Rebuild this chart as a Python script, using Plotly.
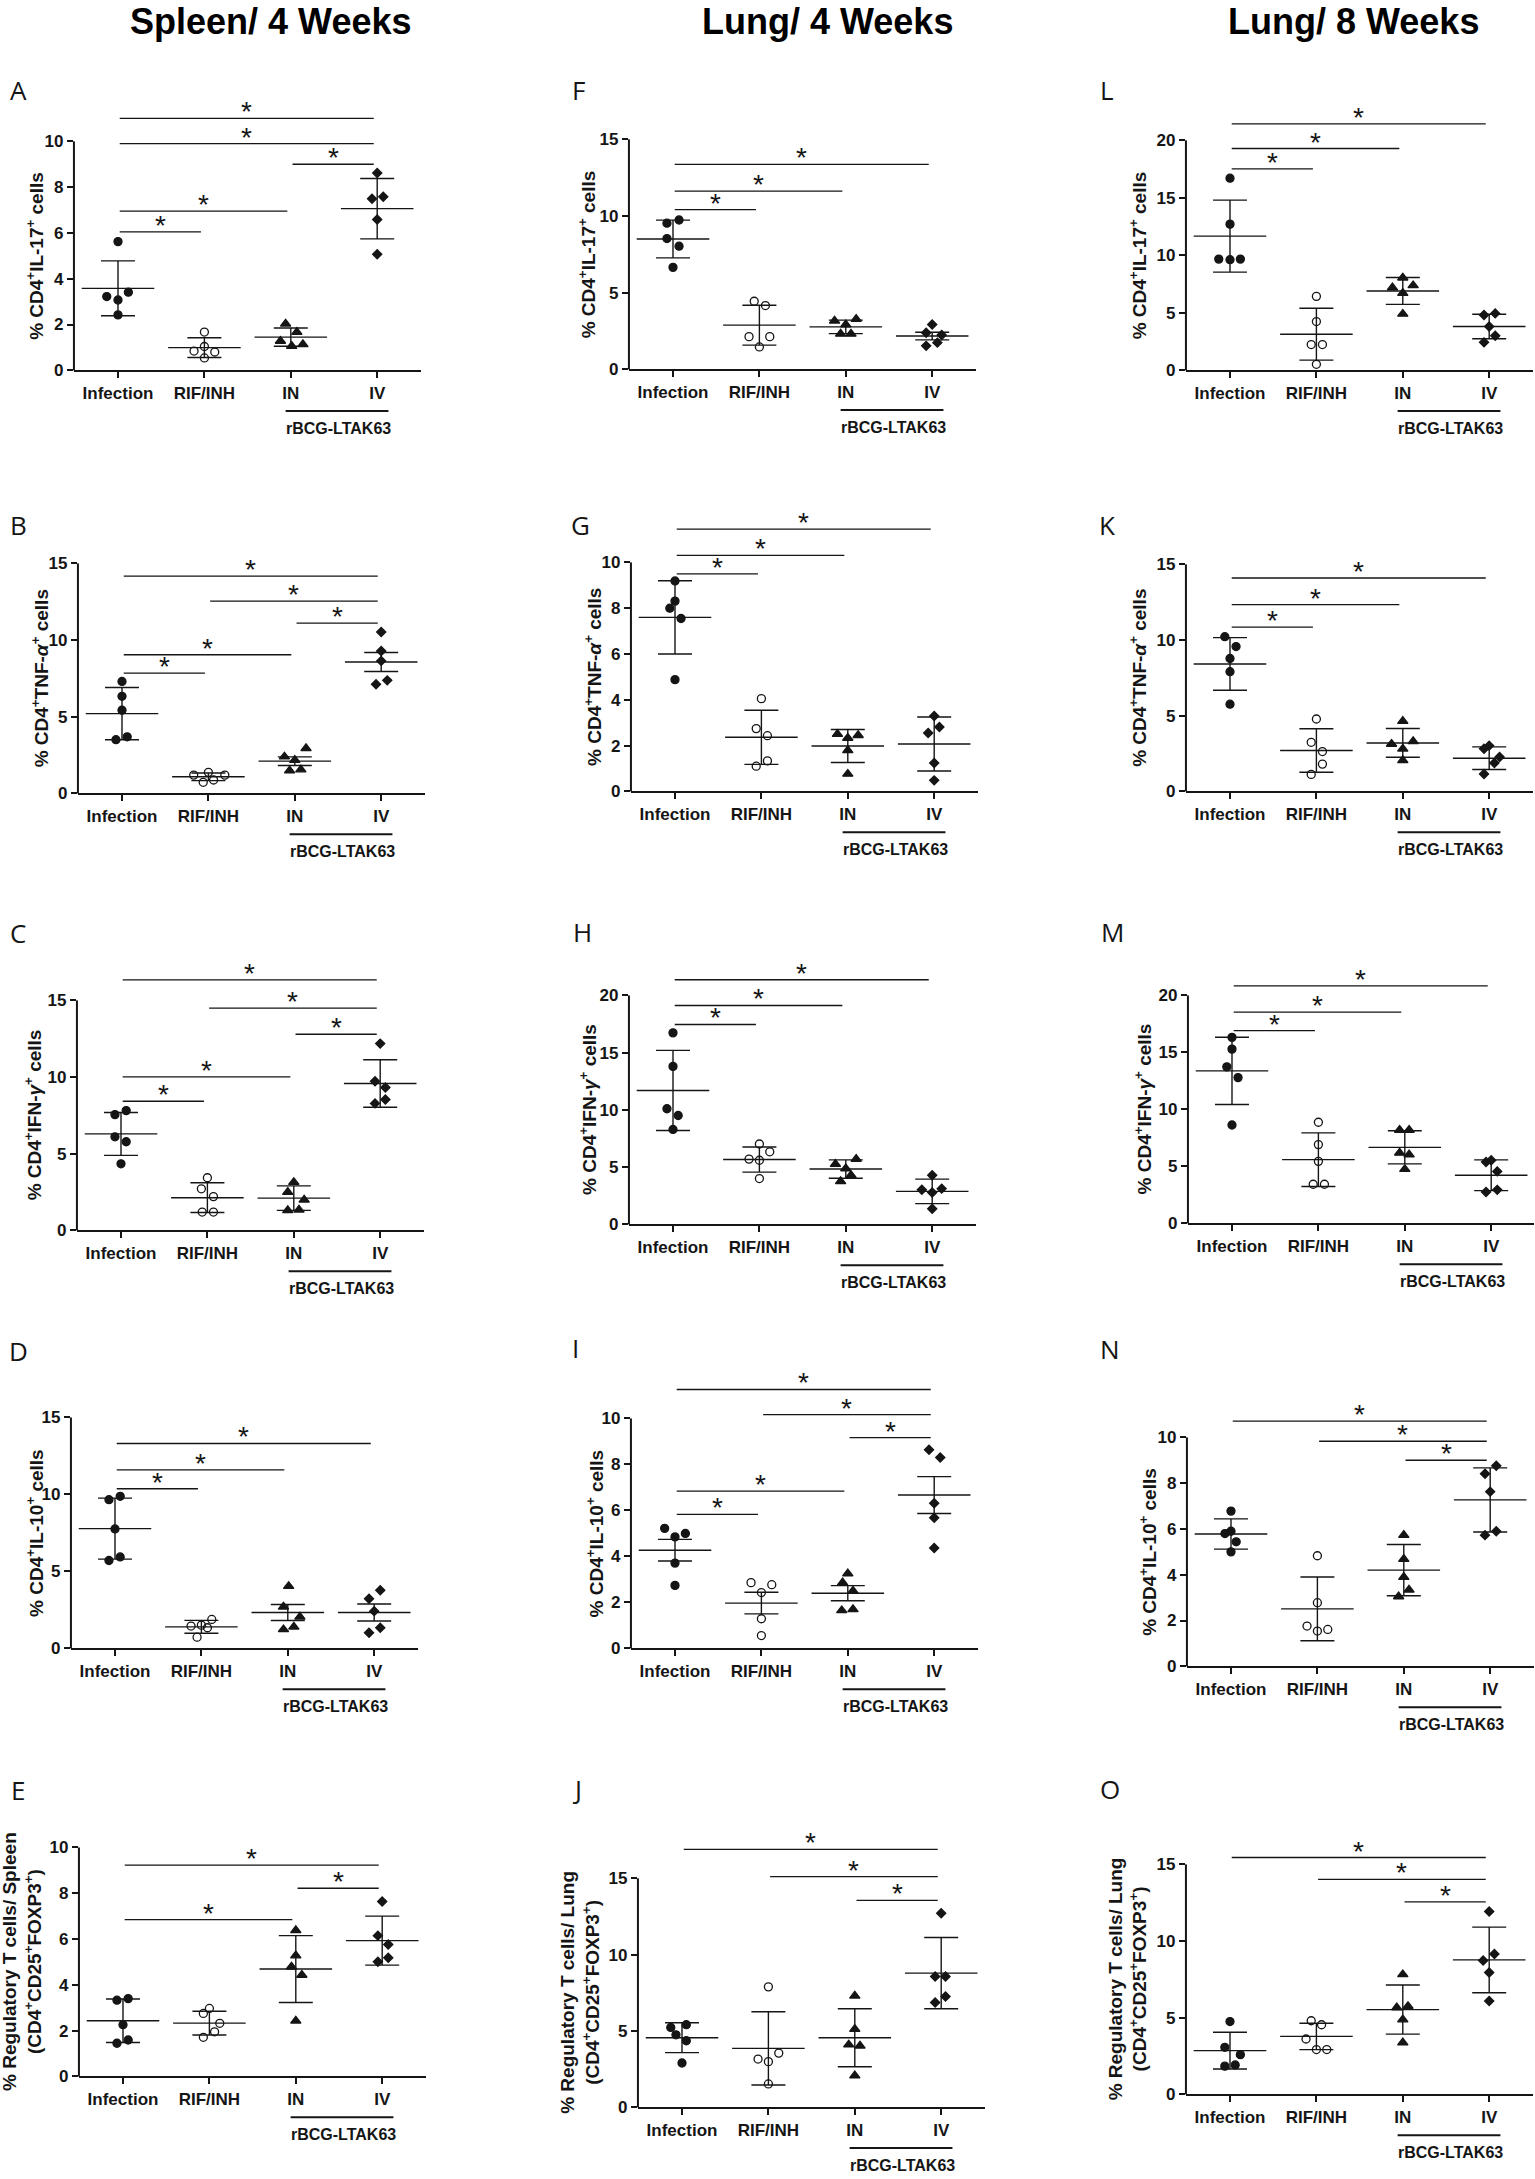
import plotly.graph_objects as go

W, H = 1535, 2179

groups = ["Infection", "RIF/INH", "IN", "IV"]
col_titles = ["Spleen/ 4 Weeks", "Lung/ 4 Weeks", "Lung/ 8 Weeks"]

# ---- Spleen / 4 weeks ----
A_vals = [[3.22, 3.07, 3.41, 2.42, 5.62], [1.67, 0.84, 1.04, 0.80, 0.54],
          [2.03, 1.67, 1.28, 1.06, 1.13], [8.62, 7.49, 7.58, 6.59, 5.07]]
A_jit = [[-0.13, 0, 0.12, 0, 0], [0, -0.12, 0, 0.12, 0],
         [-0.06, 0.07, -0.12, 0.01, 0.14], [0, -0.06, 0.07, 0, 0]]
A_mean = [3.58, 0.99, 1.45, 7.06]
A_sd = [1.2, 0.43, 0.4, 1.32]
A_sig = [(0, 1, 6.05), (0, 2, 6.95), (2, 3, 9.0), (0, 3, 9.9), (0, 3, 11.0)]

B_vals = [[7.3, 6.33, 5.42, 3.5, 3.69], [1.19, 1.37, 1.19, 0.72, 0.87],
          [2.39, 2.93, 2.17, 1.48, 1.55], [10.52, 9.29, 8.64, 7.12, 7.37]]
B_jit = [[0, 0, 0, -0.07, 0.06], [-0.17, 0, 0.19, -0.06, 0.06],
         [-0.12, 0.13, 0, -0.06, 0.07], [0, 0, 0, -0.06, 0.07]]
B_mean = [5.2, 1.08, 2.1, 8.57]
B_sd = [1.7, 0.25, 0.28, 0.62]
B_sig = [(0, 1, 7.84), (0, 2, 9.04), (2, 3, 11.1), (1, 3, 12.54), (0, 3, 14.17)]

C_vals = [[7.55, 7.81, 6.1, 5.78, 4.34], [3.43, 2.71, 2.2, 1.19, 1.19],
          [3.14, 2.49, 1.99, 1.3, 1.34], [12.18, 9.72, 9.32, 8.28, 8.53]]
C_jit = [[-0.07, 0.06, -0.07, 0.06, 0], [0, -0.07, 0.07, -0.06, 0.07],
         [0, -0.07, 0.12, -0.07, 0.06], [0, -0.06, 0.06, -0.06, 0.06]]
C_mean = [6.29, 2.13, 2.1, 9.58]
C_sd = [1.4, 0.97, 0.8, 1.55]
C_sig = [(0, 1, 8.42), (0, 2, 10.01), (2, 3, 12.79), (1, 3, 14.49), (0, 3, 16.34)]

D_vals = [[9.66, 9.88, 7.76, 5.71, 5.94], [1.45, 1.51, 1.34, 1.88, 0.73],
          [4.04, 2.7, 2.05, 1.23, 1.4], [3.78, 3.22, 2.42, 1.02, 1.34]]
D_jit = [[-0.07, 0.06, 0, -0.07, 0.06], [-0.12, 0, 0.07, 0.12, -0.05],
         [0.01, -0.05, 0.14, -0.05, 0.07], [0.07, -0.06, 0, -0.06, 0.07]]
D_mean = [7.78, 1.4, 2.33, 2.33]
D_sd = [1.98, 0.42, 0.52, 0.55]
D_sig = [(0, 1, 10.37), (0, 2, 11.6), (0, 3, 13.31)]

E_vals = [[3.33, 3.4, 2.26, 1.45, 1.59], [2.97, 2.75, 2.32, 1.95, 1.71],
          [6.38, 5.28, 4.79, 4.43, 2.43], [7.64, 6.15, 5.76, 5.01, 5.18]]
E_jit = [[-0.07, 0.06, 0, -0.07, 0.06], [0, -0.07, 0.12, 0.06, -0.07],
         [0, 0, -0.05, 0.07, 0], [0, -0.05, 0.07, -0.05, 0.07]]
E_mean = [2.43, 2.33, 4.69, 5.93]
E_sd = [0.95, 0.52, 1.46, 1.07]
E_sig = [(0, 2, 6.85), (2, 3, 8.22), (0, 3, 9.23)]

# ---- Lung / 4 weeks ----
F_vals = [[9.53, 9.74, 8.53, 8.03, 6.65], [4.44, 4.16, 2.13, 2.13, 1.46],
          [3.16, 3.27, 2.92, 2.31, 2.31], [2.92, 2.38, 2.24, 1.53, 1.74]]
F_jit = [[-0.07, 0.07, -0.07, 0.07, 0], [-0.06, 0.07, -0.12, 0.12, 0],
         [-0.13, 0.12, 0, -0.06, 0.06], [0, -0.07, 0.11, -0.07, 0.06]]
F_mean = [8.5, 2.88, 2.77, 2.17]
F_sd = [1.23, 1.3, 0.44, 0.25]
F_sig = [(0, 1, 10.42), (0, 2, 11.62), (0, 3, 13.37)]

G_vals = [[9.19, 8.31, 8.0, 7.55, 4.88], [4.05, 2.74, 2.43, 1.33, 1.1],
          [2.5, 2.33, 2.45, 1.79, 0.76], [3.29, 2.81, 2.55, 1.24, 0.48]]
G_jit = [[0, 0, -0.06, 0.07, 0], [0, -0.06, 0.07, 0.07, -0.06],
         [-0.12, 0, 0.12, 0, 0], [0, 0.06, -0.07, 0, 0]]
G_mean = [7.6, 2.36, 1.98, 2.07]
G_sd = [1.6, 1.18, 0.72, 1.18]
G_sig = [(0, 1, 9.5), (0, 2, 10.31), (0, 3, 11.45)]

H_vals = [[16.73, 13.8, 10.1, 9.51, 8.29], [7.02, 5.7, 5.6, 6.34, 4.0],
          [5.27, 5.7, 4.88, 3.76, 4.29], [4.29, 3.02, 3.12, 2.78, 1.37]]
H_jit = [[0, 0, -0.07, 0.06, 0], [0, -0.12, 0, 0.12, 0],
         [-0.12, 0.12, 0, -0.06, 0.06], [0, -0.12, 0.11, 0, 0]]
H_mean = [11.7, 5.66, 4.83, 2.88]
H_sd = [3.5, 1.1, 0.8, 1.07]
H_sig = [(0, 1, 17.46), (0, 2, 19.12), (0, 3, 21.37)]

I_vals = [[5.22, 4.85, 5.0, 3.71, 2.74], [2.86, 2.77, 2.43, 1.29, 0.56],
          [3.25, 2.86, 2.5, 1.65, 1.7], [8.64, 8.3, 6.31, 5.68, 4.37]]
I_jit = [[-0.12, 0, 0.12, 0, 0], [-0.12, 0.12, 0, 0, 0],
         [0, -0.06, 0.06, -0.07, 0.06], [-0.06, 0.07, 0, 0, 0]]
I_mean = [4.27, 1.97, 2.4, 6.67]
I_sd = [0.47, 0.47, 0.33, 0.8]
I_sig = [(0, 1, 5.83), (0, 2, 6.84), (2, 3, 9.17), (1, 3, 10.17), (0, 3, 11.26)]

J_vals = [[5.23, 5.41, 4.75, 4.36, 2.9], [7.89, 3.55, 3.16, 2.99, 1.53],
          [7.3, 5.12, 4.1, 4.03, 2.07], [12.71, 8.57, 8.57, 7.26, 6.87]]
J_jit = [[-0.13, 0.05, -0.07, 0.05, 0], [0, 0.12, -0.12, 0, 0],
         [0, 0, -0.07, 0.06, 0], [0, -0.07, 0.05, 0.05, -0.07]]
J_mean = [4.56, 3.86, 4.56, 8.79]
J_sd = [0.98, 2.4, 1.9, 2.33]
J_sig = [(2, 3, 13.56), (1, 3, 15.11), (0, 3, 16.9)]

# ---- Lung / 8 weeks ----
L_vals = [[16.71, 12.71, 9.67, 9.62, 9.67], [6.43, 4.24, 2.24, 2.24, 0.52],
          [8.05, 7.19, 7.38, 6.71, 4.9], [4.81, 4.95, 3.81, 3.0, 2.43]]
L_jit = [[0, 0, -0.13, 0, 0.12], [0, 0, -0.06, 0.07, 0],
         [0, -0.12, 0.12, 0, 0], [-0.06, 0.07, 0, 0.07, -0.06]]
L_mean = [11.67, 3.14, 6.9, 3.81]
L_sd = [3.13, 2.26, 1.17, 1.07]
L_sig = [(0, 1, 17.52), (0, 2, 19.29), (0, 3, 21.43)]

K_vals = [[10.22, 9.57, 8.78, 7.91, 5.76], [4.78, 3.24, 2.63, 1.8, 1.12],
          [4.64, 3.13, 3.31, 2.81, 2.05], [3.02, 2.81, 2.27, 1.87, 1.15]]
K_jit = [[-0.06, 0.07, 0, 0, 0], [0, -0.06, 0.07, 0.07, -0.06],
         [0, -0.13, 0.12, 0, 0], [0, -0.06, 0.12, 0.06, -0.06]]
K_mean = [8.42, 2.7, 3.2, 2.19]
K_sd = [1.74, 1.44, 0.95, 0.75]
K_sig = [(0, 1, 10.86), (0, 2, 12.34), (0, 3, 14.1)]

M_vals = [[16.32, 15.29, 13.73, 12.79, 8.63], [8.87, 6.91, 5.44, 3.43, 3.43],
          [8.19, 8.19, 6.18, 6.03, 4.75], [5.39, 5.54, 4.56, 2.75, 2.94]]
M_jit = [[0, 0, -0.06, 0.07, 0], [0, 0, 0, -0.06, 0.07],
         [-0.06, 0.05, -0.06, 0.05, 0], [-0.06, 0, 0.07, -0.06, 0.07]]
M_mean = [13.38, 5.59, 6.67, 4.22]
M_sd = [2.95, 2.35, 1.45, 1.35]
M_sig = [(0, 1, 16.91), (0, 2, 18.53), (0, 3, 20.83)]

N_vals = [[6.78, 5.8, 5.9, 5.44, 5.0], [4.83, 2.78, 1.76, 1.54, 1.61],
          [5.73, 4.68, 3.9, 3.34, 3.05], [8.41, 8.76, 7.63, 5.73, 5.9]]
N_jit = [[0, -0.07, 0, 0.06, 0], [0, 0, -0.12, 0, 0.12],
         [0, 0, 0, 0.06, -0.06], [-0.06, 0.07, 0, -0.06, 0.07]]
N_mean = [5.78, 2.51, 4.2, 7.27]
N_sd = [0.66, 1.39, 1.12, 1.4]
N_sig = [(2, 3, 9.0), (1, 3, 9.83), (0, 3, 10.71)]

O_vals = [[4.75, 3.07, 2.59, 1.84, 1.92], [4.8, 4.54, 3.61, 2.92, 2.92],
          [7.82, 5.66, 5.75, 4.88, 3.37], [11.93, 8.73, 9.16, 7.95, 6.09]]
O_jit = [[0, -0.06, 0.12, -0.06, 0.06], [-0.06, 0.06, -0.12, 0, 0.12],
         [0, -0.07, 0.06, 0, 0], [0, -0.07, 0.06, 0, 0]]
O_mean = [2.85, 3.78, 5.53, 8.77]
O_sd = [1.2, 0.86, 1.6, 2.14]
O_sig = [(2, 3, 12.56), (1, 3, 14.03), (0, 3, 15.45)]

lab_il17 = "% CD4<sup>+</sup>IL-17<sup>+</sup> cells"
lab_tnf = "% CD4<sup>+</sup>TNF-<i>α</i><sup>+</sup> cells"
lab_ifn = "% CD4<sup>+</sup>IFN-<i>γ</i><sup>+</sup> cells"
lab_il10 = "% CD4<sup>+</sup>IL-10<sup>+</sup> cells"
lab_treg_s = "% Regulatory T cells/ Spleen<br>(CD4<sup>+</sup>CD25<sup>+</sup>FOXP3<sup>+</sup>)"
lab_treg_l = "% Regulatory T cells/ Lung<br>(CD4<sup>+</sup>CD25<sup>+</sup>FOXP3<sup>+</sup>)"

# letter, data..., y label, top tick, tick step,
# layout in px: first category x, y=0 row, top tick row, y-label x, letter x/y
panels = [
    ("A", A_vals, A_jit, A_mean, A_sd, A_sig, lab_il17, 10, 2, 118, 372, 142, 35, 18, 90),
    ("B", B_vals, B_jit, B_mean, B_sd, B_sig, lab_tnf, 15, 5, 122, 797, 566, 40, 18, 527),
    ("C", C_vals, C_jit, C_mean, C_sd, C_sig, lab_ifn, 15, 5, 121, 1236, 1005, 33, 18, 937),
    ("D", D_vals, D_jit, D_mean, D_sd, D_sig, lab_il10, 15, 5, 115, 1656, 1424, 35, 18, 1357),
    ("E", E_vals, E_jit, E_mean, E_sd, E_sig, lab_treg_s, 10, 2, 123, 2086, 1856, 22, 18, 1798),
    ("F", F_vals, F_jit, F_mean, F_sd, F_sig, lab_il17, 15, 5, 673, 371, 140, 587, 578, 90),
    ("G", G_vals, G_jit, G_mean, G_sd, G_sig, lab_tnf, 10, 2, 675, 795, 565, 593, 580, 527),
    ("H", H_vals, H_jit, H_mean, H_sd, H_sig, lab_ifn, 20, 5, 673, 1230, 1000, 588, 582, 936),
    ("I", I_vals, I_jit, I_mean, I_sd, I_sig, lab_il10, 10, 2, 675, 1656, 1425, 595, 575, 1354),
    ("J", J_vals, J_jit, J_mean, J_sd, J_sig, lab_treg_l, 15, 5, 682, 2117, 1887, 580, 577, 1797),
    ("L", L_vals, L_jit, L_mean, L_sd, L_sig, lab_il17, 20, 5, 1230, 372, 141, 1138, 1107, 90),
    ("K", K_vals, K_jit, K_mean, K_sd, K_sig, lab_tnf, 15, 5, 1230, 795, 567, 1138, 1107, 527),
    ("M", M_vals, M_jit, M_mean, M_sd, M_sig, lab_ifn, 20, 5, 1232, 1229, 1000, 1143, 1112, 936),
    ("N", N_vals, N_jit, N_mean, N_sd, N_sig, lab_il10, 10, 2, 1231, 1674, 1444, 1148, 1110, 1355),
    ("O", O_vals, O_jit, O_mean, O_sd, O_sig, lab_treg_l, 15, 5, 1230, 2104, 1873, 1128, 1110, 1797),
]

SP = 86.4
XL = -0.51
ink = "#151515"
ff = "Liberation Sans, Arial, sans-serif"
symbols = ["circle", "circle-open", "triangle-up", "diamond"]
msize = [8, 8, 9, 7]

fig = go.Figure()
shapes, annos, lay = [], [], {}

for k, (let, vals, jit, mean, sd, sig, ylab, top, step, c0, y0, yt, lx, tx, ty) in enumerate(panels, start=1):
    ax = "" if k == 1 else str(k)
    ppu = (y0 - yt) / top
    ymax = max([top] + [s[2] for s in sig]) + 0.15 * top
    xr_px = min(W - 1, c0 + 3.51 * SP)
    XR = (xr_px - c0) / SP
    lay["xaxis" + ax] = dict(
        domain=[(c0 + XL * SP) / W, xr_px / W], range=[XL, XR], anchor="y" + ax,
        tickvals=[0, 1, 2, 3], ticktext=groups, ticks="outside", ticklen=6, tickwidth=2,
        tickcolor=ink, showline=True, linewidth=2, linecolor=ink, showgrid=False, zeroline=False,
        tickfont=dict(family=ff, size=17, color=ink, weight="bold"), fixedrange=True)
    lay["yaxis" + ax] = dict(
        domain=[1 - y0 / H, min(1, 1 - (y0 - ymax * ppu) / H)], range=[0, ymax], anchor="x" + ax,
        tickvals=list(range(0, top + 1, step)), ticks="outside", ticklen=6, tickwidth=2,
        tickcolor=ink, showline=False, showgrid=False, zeroline=False,
        tickfont=dict(family=ff, size=17, color=ink, weight="bold"), fixedrange=True)

    for g in range(4):
        fig.add_trace(go.Scatter(
            x=[g], y=[mean[g]], xaxis="x" + ax, yaxis="y" + ax, mode="markers",
            marker=dict(size=2, color="rgba(0,0,0,0)"), hoverinfo="skip",
            error_y=dict(type="data", array=[sd[g]], width=17, thickness=1.4, color=ink),
            error_x=dict(type="data", array=[0.42], width=0, thickness=1.4, color=ink)))
        fig.add_trace(go.Scatter(
            x=[g + d for d in jit[g]], y=vals[g], xaxis="x" + ax, yaxis="y" + ax, mode="markers",
            marker=dict(symbol=symbols[g], size=msize[g], color=ink, line=dict(color=ink, width=1.3))))

    # y axis line only up to the top tick
    shapes.append(dict(type="line", xref="x" + ax + " domain", yref="y" + ax + " domain",
                       x0=0, x1=0, y0=0, y1=top / ymax, line=dict(color=ink, width=2)))

    for i, j, yv in sig:
        shapes.append(dict(type="line", xref="x" + ax, yref="y" + ax, x0=i + 0.02, x1=j - 0.04,
                           y0=yv, y1=yv, line=dict(color=ink, width=1.3)))
        annos.append(dict(text="*", xref="x" + ax, yref="y" + ax, x=(i + j) / 2 - 0.01, y=yv,
                          yanchor="bottom", yshift=-11, showarrow=False,
                          font=dict(family=ff, size=28, color=ink)))

    # rBCG-LTAK63 bracket under IN / IV
    shapes.append(dict(type="line", xref="x" + ax + " domain", yref="paper",
                       x0=(1.94 - XL) / (XR - XL), x1=(3.13 - XL) / (XR - XL),
                       y0=1 - (y0 + 41) / H, y1=1 - (y0 + 41) / H, line=dict(color=ink, width=2)))
    annos.append(dict(text="rBCG-LTAK63", xref="x" + ax, yref="paper", x=2.55, y=1 - (y0 + 58) / H,
                      xanchor="center", yanchor="middle", showarrow=False,
                      font=dict(family=ff, size=16, color=ink, weight="bold")))

    annos.append(dict(text=ylab, xref="paper", yref="paper", x=lx / W, y=1 - (y0 + yt) / 2 / H,
                      textangle=-90, xanchor="center", yanchor="middle", showarrow=False,
                      font=dict(family=ff, size=19, color=ink, weight="bold")))
    annos.append(dict(text=let, xref="paper", yref="paper", x=tx / W, y=1 - ty / H,
                      xanchor="center", yanchor="middle", showarrow=False,
                      font=dict(family="Open Sans, sans-serif", size=26, color=ink)))

for t, cx in zip(col_titles, [270, 827, 1353]):
    annos.append(dict(text=t, xref="paper", yref="paper", x=cx / W, y=1 - 22 / H,
                      xanchor="center", yanchor="middle", showarrow=False,
                      font=dict(family=ff, size=36, color="#000", weight="bold")))

fig.update_layout(width=W, height=H, margin=dict(l=0, r=0, t=0, b=0), showlegend=False,
                  paper_bgcolor="white", plot_bgcolor="white", shapes=shapes, annotations=annos, **lay)

fig.write_html("out.html", config={"displayModeBar": False},
               post_script="document.body.style.margin='0';")
